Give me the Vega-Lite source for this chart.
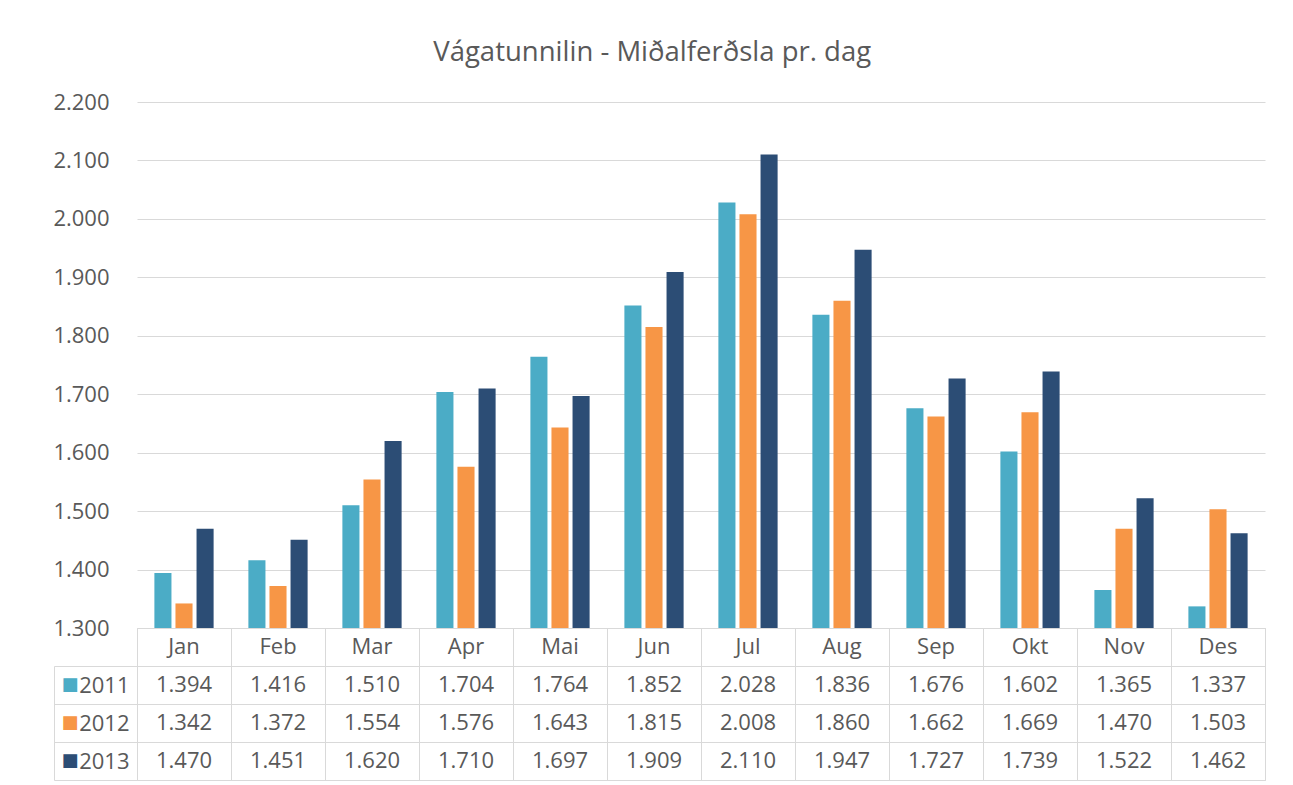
{
  "$schema": "https://vega.github.io/schema/vega-lite/v6.json",
  "padding": {"left": 52, "top": 38, "right": 27, "bottom": 5},
  "background": "white",
  "config": {
    "locale": {"number": {"decimal": ",", "thousands": ".", "grouping": [3], "currency": ["", ""]}},
    "font": "Open Sans",
    "view": {"stroke": null}
  },
  "title": {"text": "Vágatunnilin - Miðalferðsla pr. dag", "fontSize": 27.5, "fontWeight": "normal", "color": "#595959", "font": "Open Sans", "anchor": "middle", "offset": 25, "dx": -7},
  "data": {"values": [
    {"month": "Jan", "year": "2011", "value": 1394}, {"month": "Feb", "year": "2011", "value": 1416}, {"month": "Mar", "year": "2011", "value": 1510}, {"month": "Apr", "year": "2011", "value": 1704}, {"month": "Mai", "year": "2011", "value": 1764}, {"month": "Jun", "year": "2011", "value": 1852}, {"month": "Jul", "year": "2011", "value": 2028}, {"month": "Aug", "year": "2011", "value": 1836}, {"month": "Sep", "year": "2011", "value": 1676}, {"month": "Okt", "year": "2011", "value": 1602}, {"month": "Nov", "year": "2011", "value": 1365}, {"month": "Des", "year": "2011", "value": 1337},
    {"month": "Jan", "year": "2012", "value": 1342}, {"month": "Feb", "year": "2012", "value": 1372}, {"month": "Mar", "year": "2012", "value": 1554}, {"month": "Apr", "year": "2012", "value": 1576}, {"month": "Mai", "year": "2012", "value": 1643}, {"month": "Jun", "year": "2012", "value": 1815}, {"month": "Jul", "year": "2012", "value": 2008}, {"month": "Aug", "year": "2012", "value": 1860}, {"month": "Sep", "year": "2012", "value": 1662}, {"month": "Okt", "year": "2012", "value": 1669}, {"month": "Nov", "year": "2012", "value": 1470}, {"month": "Des", "year": "2012", "value": 1503},
    {"month": "Jan", "year": "2013", "value": 1470}, {"month": "Feb", "year": "2013", "value": 1451}, {"month": "Mar", "year": "2013", "value": 1620}, {"month": "Apr", "year": "2013", "value": 1710}, {"month": "Mai", "year": "2013", "value": 1697}, {"month": "Jun", "year": "2013", "value": 1909}, {"month": "Jul", "year": "2013", "value": 2110}, {"month": "Aug", "year": "2013", "value": 1947}, {"month": "Sep", "year": "2013", "value": 1727}, {"month": "Okt", "year": "2013", "value": 1739}, {"month": "Nov", "year": "2013", "value": 1522}, {"month": "Des", "year": "2013", "value": 1462}
  ]},
  "spacing": 0,
  "bounds": "flush",
  "resolve": {"scale": {"x": "independent", "y": "independent"}},
  "vconcat": [
    {
      "width": 1128,
      "height": 526,
      "mark": {"type": "bar"},
      "encoding": {
        "x": {"field": "month", "type": "nominal", "sort": ["Jan","Feb","Mar","Apr","Mai","Jun","Jul","Aug","Sep","Okt","Nov","Des"], "scale": {"paddingInner": 0.37, "paddingOuter": 0.185}, "axis": null},
        "xOffset": {"field": "year", "type": "nominal", "scale": {"paddingInner": 0.19}},
        "y": {"field": "value", "type": "quantitative", "scale": {"domain": [1300, 2200], "zero": false, "nice": false},
              "axis": {"title": null, "tickCount": 10, "grid": true, "gridColor": "#d9d9d9", "domain": false, "ticks": false, "labelPadding": 28, "labelFontSize": 22, "labelColor": "#595959", "format": ",d"}},
        "y2": {"datum": 1300},
        "color": {"field": "year", "type": "nominal", "scale": {"domain": ["2011","2012","2013"], "range": ["#4bacc6","#f79646","#2c4d75"]}, "legend": null}
      }
    },
    {
      "width": 1128,
      "height": 152,
      "view": {"stroke": "#d9d9d9"},
      "resolve": {"scale": {"y": "independent"}, "axis": {"y": "independent"}},
      "layer": [
        {
          "mark": {"type": "text", "fontSize": 22, "color": "#595959"},
          "encoding": {
            "x": {"field": "month", "type": "nominal", "sort": ["Jan","Feb","Mar","Apr","Mai","Jun","Jul","Aug","Sep","Okt","Nov","Des"], "scale": {"type": "band", "paddingInner": 0, "paddingOuter": 0},
                  "axis": {"title": null, "labels": false, "ticks": false, "domain": false, "grid": true, "tickBand": "extent", "gridColor": "#d9d9d9"}},
            "y": {"field": "year", "type": "nominal", "scale": {"type": "band", "domain": ["2011","2012","2013"], "paddingInner": 0, "paddingOuter": 0.5, "align": 1},
                  "axis": {"title": null, "tickBand": "extent", "ticks": true, "tickSize": 83, "tickColor": "#d9d9d9", "grid": true, "gridColor": "#d9d9d9", "domain": false, "labelPadding": -75, "labelFontSize": 22, "labelColor": "#595959"}},
            "text": {"field": "value", "type": "quantitative", "format": ",d"}
          }
        },
        {
          "transform": [{"filter": "datum.year == '2011'"}],
          "mark": {"type": "text", "fontSize": 22, "color": "#595959"},
          "encoding": {
            "x": {"field": "month", "type": "nominal", "sort": ["Jan","Feb","Mar","Apr","Mai","Jun","Jul","Aug","Sep","Okt","Nov","Des"]},
            "y": {"datum": "hdr", "type": "nominal", "scale": {"type": "band", "domain": ["hdr","2011","2012","2013"], "paddingInner": 0, "paddingOuter": 0}, "axis": null},
            "text": {"field": "month", "type": "nominal"}
          }
        },
        {
          "mark": {"type": "text", "opacity": 0},
          "encoding": {
            "x": {"field": "month", "type": "nominal", "sort": ["Jan","Feb","Mar","Apr","Mai","Jun","Jul","Aug","Sep","Okt","Nov","Des"]},
            "y": {"field": "year", "type": "nominal", "scale": {"type": "band", "domain": ["2011","2012","2013"], "paddingInner": 0, "paddingOuter": 0, "rangeMin": 38},
                  "axis": {"title": null, "orient": "left", "offset": 83, "domain": true, "domainColor": "#d9d9d9", "ticks": false, "grid": false, "labelExpr": "'■'", "labelAlign": "left", "labelBaseline": "middle", "labelPadding": -7, "labelFont": "DejaVu Sans", "labelFontSize": 18,
                           "labelColor": {"condition": [{"test": "datum.value === '2011'", "value": "#4bacc6"}, {"test": "datum.value === '2012'", "value": "#f79646"}, {"test": "datum.value === '2013'", "value": "#2c4d75"}], "value": "#2c4d75"}}},
            "text": {"value": "x"}
          }
        }
      ]
    }
  ]
}
